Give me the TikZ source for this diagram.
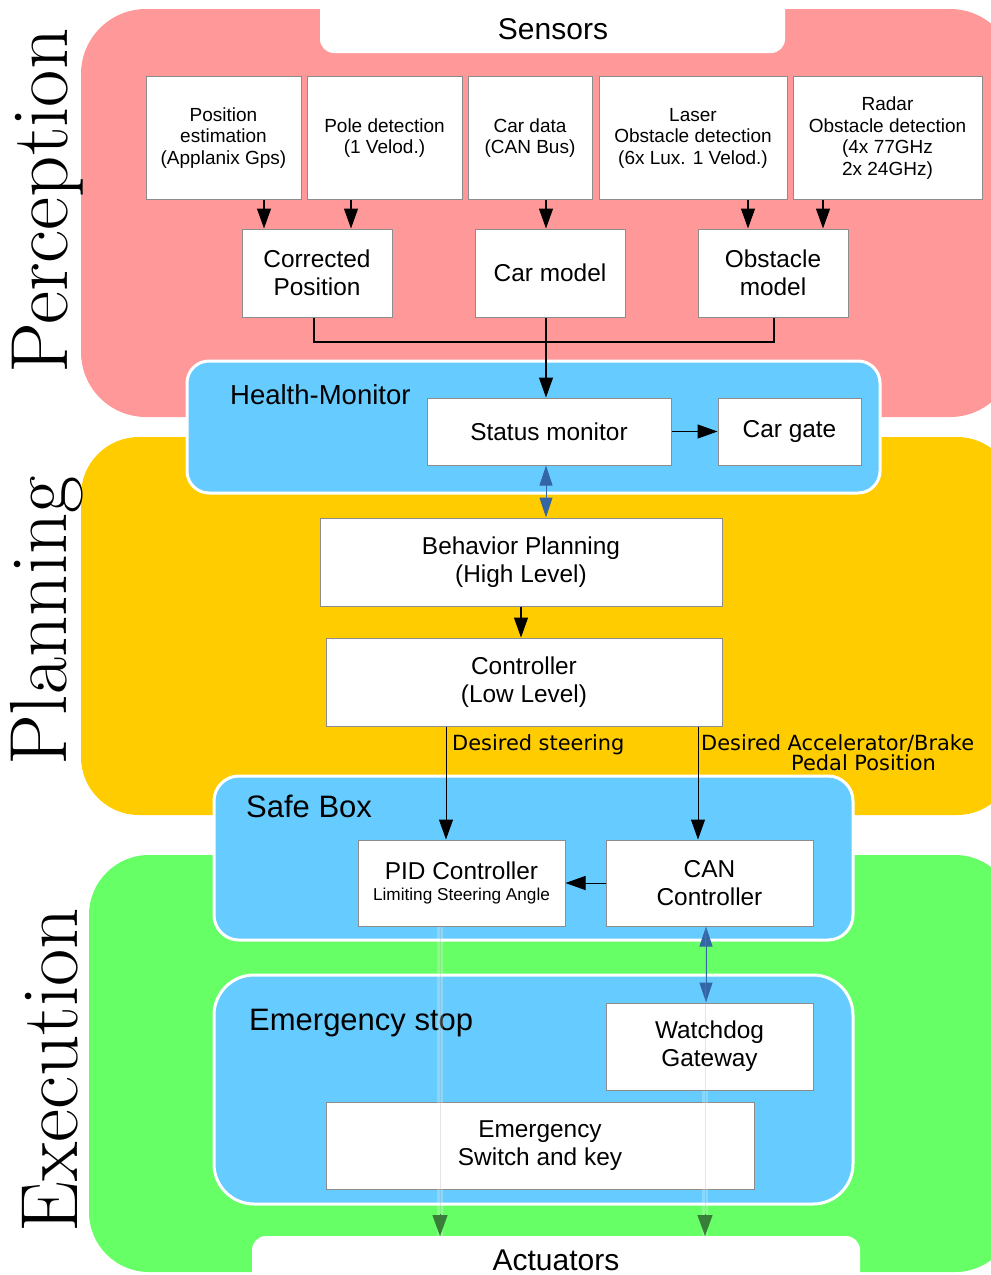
\documentclass[tikz,border=0pt]{standalone}
\usepackage{fontspec}
\setsansfont{Liberation Sans}
\newfontfamily\djvfont{DejaVu Sans}
\usetikzlibrary{arrows.meta}
\definecolor{percol}{RGB}{255,153,153}
\definecolor{plancol}{RGB}{255,204,0}
\definecolor{execol}{RGB}{102,255,102}
\definecolor{boxblue}{RGB}{102,204,255}
\definecolor{linkblue}{RGB}{52,101,164}
\definecolor{outgreen}{RGB}{56,125,56}

\begin{document}
\begin{tikzpicture}[x=1pt, y=-1pt, >={Triangle[length=20pt,width=14pt]},
        blk/.style={draw=black!45, fill=white, line width=1pt, align=center, inner sep=0pt,
            font=\sffamily\fontsize{24.4}{28}\selectfont},
        sbox/.style={blk, minimum height=123pt, font=\sffamily\fontsize{19}{21.5}\selectfont},
        grp/.style={fill=boxblue, draw=white, line width=3pt},
        grplbl/.style={anchor=base west, inner sep=0pt, font=\sffamily\fontsize{31}{31}\selectfont},
        tablbl/.style={anchor=base, inner sep=0pt, font=\sffamily\fontsize{30}{30}\selectfont},
        lyr/.style={rotate=90, anchor=base, inner sep=0pt, font=\rmfamily\fontsize{81}{81}\selectfont},
        sig/.style={anchor=base west, inner sep=0pt, font=\djvfont\fontsize{20.9}{21}\selectfont},
        arr/.style={->, line width=1.2pt},
        dbl/.style={{Triangle[length=20pt,width=13pt]}-{Triangle[length=20pt,width=13pt]}, linkblue, line width=1pt},
        faint/.style={white, opacity=0.22, line width=6pt},
        faintcore/.style={black!40, opacity=0.25, line width=0.8pt},
        outtip/.style={-{Triangle[length=21pt,width=15pt]}, outgreen, line width=1pt}]

    \clip (0,0) rectangle (991,1275);
    \fill[white] (0,0) rectangle (991,1275);

    \fill[percol, rounded corners=65pt] (81,9) rectangle (1015,417);
    \fill[plancol, rounded corners=58pt] (81,437) rectangle (1015,815);
    \fill[execol, rounded corners=60pt] (89,855) rectangle (1015,1272);

    \fill[white, rounded corners=14pt] (320,-30) rectangle (785,53);
    \fill[white, rounded corners=14pt] (252,1236) rectangle (860,1310);
    \node[tablbl] (sens) at (553,39) {Sensors};
    \node[tablbl] (act) at (556,1270) {Actuators};
    \coordinate (acttop) at (556,1236);

    \node[lyr] (perc) at (67,201) {Perception};
    \node[lyr] (plan) at (66,621) {Planning};
    \node[lyr] (exec) at (77,1070) {Execution};

    \draw[grp, rounded corners=22pt] (187,361) rectangle (880,493);
    \draw[grp, rounded corners=25pt] (214,776) rectangle (853,940);
    \draw[grp, rounded corners=40pt] (214,975) rectangle (853,1204);
    \node[grplbl, font=\sffamily\fontsize{27.5}{28}\selectfont] (hmlbl) at (230,404) {Health-Monitor};
    \node[grplbl] (sblbl) at (246,817) {Safe Box};
    \node[grplbl] (eslbl) at (249,1030) {Emergency stop};

    \node[sbox, minimum width=155pt] (pos) at (223.5,138) {Position\\estimation\\(Applanix Gps)};
    \node[sbox, minimum width=155pt] (pole) at (384.5,138) {Pole detection\\(1 Velod.)};
    \node[sbox, minimum width=124pt] (cdata) at (530,138) {Car data\\(CAN Bus)};
    \node[sbox, minimum width=188pt] (laser) at (693,138) {Laser\\Obstacle detection\\(6x Lux. 1 Velod.)};
    \node[sbox, minimum width=189pt] (radar) at (887.5,138) {Radar\\Obstacle detection\\(4x 77GHz\\2x 24GHz)};

    \node[blk, minimum width=150pt, minimum height=88pt] (cor) at (317,273) {Corrected\\Position};
    \node[blk, minimum width=150pt, minimum height=88pt] (car) at (550,273) {Car model};
    \node[blk, minimum width=150pt, minimum height=88pt] (obs) at (773,273) {Obstacle\\model};

    \node[blk, minimum width=244pt, minimum height=67pt] (stat) at (549,431.5) {Status monitor};
    \node[blk, minimum width=143pt, minimum height=67pt] (gate) at (789.5,431.5) {Car gate};
    \node[blk, minimum width=402pt, minimum height=88pt] (beh) at (521,562) {Behavior Planning\\(High Level)};
    \node[blk, minimum width=396pt, minimum height=88pt] (ctrl) at (524,682) {Controller\\(Low Level)};

    \node[blk, minimum width=207pt, minimum height=86pt] (pid) at (461.5,883)
        {PID Controller\\[-7pt]{\fontsize{17.2}{19}\selectfont Limiting Steering Angle}};
    \node[blk, minimum width=207pt, minimum height=86pt] (can) at (709.5,883) {CAN\\Controller};
    \node[blk, minimum width=207pt, minimum height=87pt] (wdog) at (709.5,1046.5) {Watchdog\\Gateway};
    \node[blk, minimum width=428pt, minimum height=87pt] (estop) at (540,1145.5) {Emergency\\Switch and key};

    \draw[arr] (264,0 |- pos.south) -- (264,0 |- cor.north);
    \draw[arr] (351,0 |- pole.south) -- (351,0 |- cor.north);
    \draw[arr] (546,0 |- cdata.south) -- (546,0 |- car.north);
    \draw[arr] (748,0 |- laser.south) -- (748,0 |- obs.north);
    \draw[arr] (823,0 |- radar.south) -- (823,0 |- obs.north);

    \draw[line width=1.2pt] (314,0 |- cor.south) -- (314,342) -| (774,0 |- obs.south);
    \draw[arr] (546,0 |- car.south) -- (546,0 |- stat.north);
    \draw[arr] (stat.east) -- (gate.west);

    \draw[dbl] (546,0 |- stat.south) -- (546,0 |- beh.north);
    \draw[arr] (521,0 |- beh.south) -- (521,0 |- ctrl.north);
    \draw[arr, line width=1pt] (446,0 |- ctrl.south) -- (446,0 |- pid.north);
    \draw[arr, line width=1pt] (698,0 |- ctrl.south) -- (698,0 |- can.north);
    \node[sig] (dst) at (452,750) {Desired steering};
    \node[sig] (dacc) at (701,750) {Desired Accelerator/Brake};
    \node[sig] (dped) at (791,770) {Pedal Position};

    \draw[arr, line width=1pt] (can.west) -- (pid.east);
    \draw[dbl] (706,0 |- can.south) -- (706,0 |- wdog.north);

    \draw[faint] (440,0 |- pid.south) -- (440,0 |- acttop);
    \draw[faint] (705,0 |- wdog.south) -- (705,0 |- acttop);
    \draw[faintcore] (440,0 |- pid.south) -- (440,0 |- acttop);
    \draw[faintcore] (705,0 |- can.south) -- (705,0 |- acttop);
    \draw[outtip] (440,1214) -- (440,0 |- acttop);
    \draw[outtip] (705,1214) -- (705,0 |- acttop);
\end{tikzpicture}
\end{document}
